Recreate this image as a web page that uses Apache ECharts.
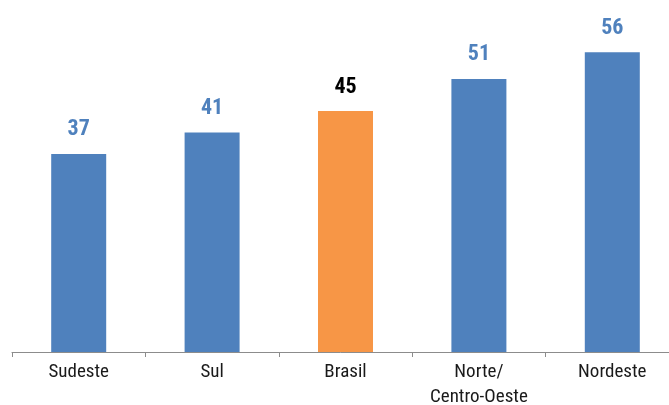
<!DOCTYPE html>
<html>
<head>
<meta charset="utf-8">
<script src="https://cdn.jsdelivr.net/npm/echarts@6/dist/echarts.min.js"></script>
<style>
  html, body { margin: 0; padding: 0; background: #fff; }
  #chart { width: 669px; height: 405px; }
</style>
</head>
<body>
<div id="chart"></div>
<script>
const categories = ['Sudeste', 'Sul', 'Brasil', 'Norte/\nCentro-Oeste', 'Nordeste'];
const values = [37, 41, 45, 51, 56];
const highlight = 'Brasil';

const BLUE = '#4F81BD';
const ORANGE = '#F79646';
const FONT = '"Roboto Condensed", "Liberation Sans", sans-serif';

const chart = echarts.init(document.getElementById('chart'));
chart.setOption({
  animation: false,
  grid: { left: 12, width: 667, top: 4, bottom: 53, outerBoundsMode: 'none', containLabel: false },
  xAxis: {
    type: 'category',
    data: categories,
    axisLine: { lineStyle: { color: '#8c8c8c', width: 1 } },
    axisTick: { show: true, length: 5, lineStyle: { color: '#8c8c8c' } },
    axisLabel: {
      color: '#1a1a1a', fontFamily: FONT, fontSize: 19, margin: 8, lineHeight: 25
    }
  },
  yAxis: {
    type: 'value', min: 0, max: 65,
    show: false, splitLine: { show: false }
  },
  series: [{
    type: 'bar',
    barWidth: 55,
    data: values.map((v, i) => ({
      value: v,
      itemStyle: { color: categories[i] === highlight ? ORANGE : BLUE },
      label: { color: categories[i] === highlight ? '#000' : BLUE }
    })),
    label: {
      show: true, position: 'top', distance: 13,
      fontFamily: FONT, fontSize: 22, fontWeight: 'bold'
    }
  }]
});
</script>
</body>
</html>
